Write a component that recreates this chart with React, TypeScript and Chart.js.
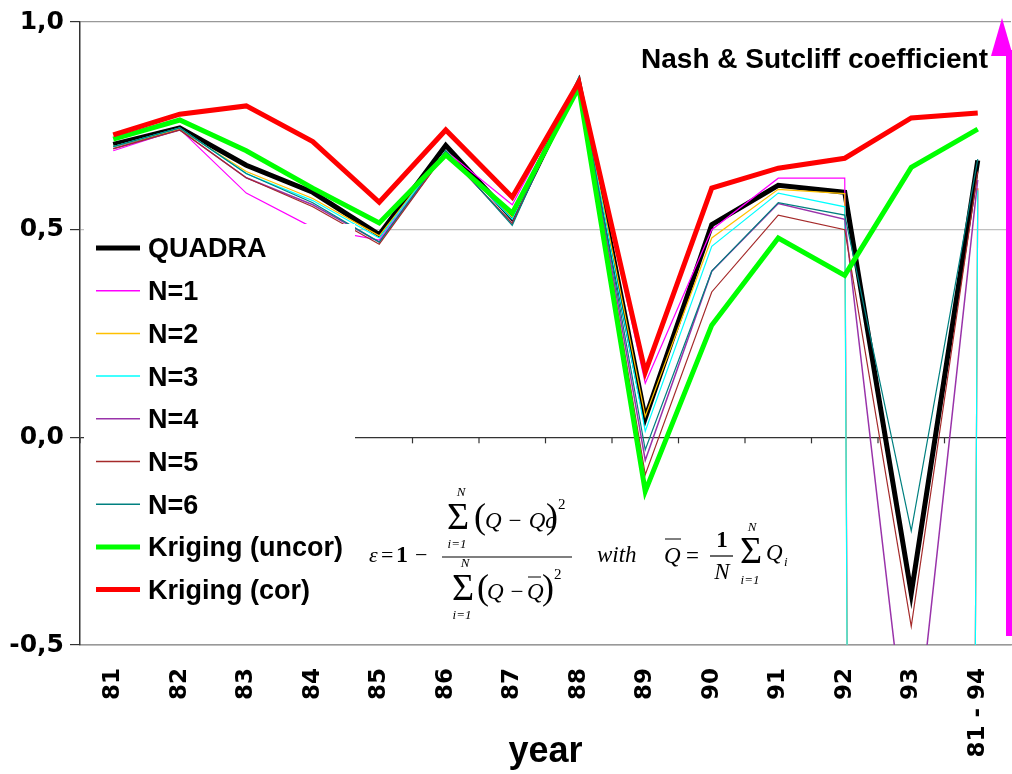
import React, { useEffect, useRef } from 'react';
import { Chart, registerables } from 'chart.js';

Chart.register(...registerables);

const categories = ['81', '82', '83', '84', '85', '86', '87', '88', '89', '90', '91', '92', '93', '81 - 94'];

const quadra = [0.705, 0.745, 0.655, 0.59, 0.488, 0.703, 0.528, 0.855, 0.046, 0.512, 0.607, 0.59, -0.376, 0.667];
const n1 = [0.69, 0.742, 0.588, 0.505, 0.475, 0.69, 0.56, 0.86, 0.13, 0.5, 0.624, 0.624, -30, 0.6];
const n2 = [0.7, 0.742, 0.64, 0.575, 0.485, 0.69, 0.53, 0.855, 0.05, 0.48, 0.597, 0.587, -30, 0.6];
const n3 = [0.7, 0.745, 0.635, 0.57, 0.48, 0.69, 0.525, 0.86, 0.015, 0.46, 0.588, 0.555, -30, 0.595];
const n4 = [0.695, 0.74, 0.625, 0.56, 0.47, 0.685, 0.515, 0.86, -0.055, 0.4, 0.563, 0.525, -0.85, 0.62];
const n5 = [0.695, 0.74, 0.625, 0.555, 0.465, 0.685, 0.515, 0.86, -0.09, 0.35, 0.535, 0.5, -0.455, 0.64];
const n6 = [0.7, 0.745, 0.635, 0.565, 0.47, 0.69, 0.51, 0.867, -0.03, 0.4, 0.565, 0.535, -0.225, 0.67];
const krigUncor = [0.718, 0.764, 0.69, 0.6, 0.516, 0.68, 0.54, 0.843, -0.13, 0.27, 0.48, 0.39, 0.65, 0.742];
const krigCor = [0.728, 0.778, 0.798, 0.712, 0.566, 0.74, 0.578, 0.855, 0.157, 0.6, 0.648, 0.672, 0.769, 0.781];

const seriesNames = ['QUADRA', 'N=1', 'N=2', 'N=3', 'N=4', 'N=5', 'N=6', 'Kriging (uncor)', 'Kriging (cor)'];
const seriesValues = [quadra, n1, n2, n3, n4, n5, n6, krigUncor, krigCor];
const seriesColors = ['#000000', '#ff00ff', '#ffc000', '#00ffff', '#9933aa', '#a52a2a', '#008080', '#00ff00', '#ff0000'];
const seriesWidths = [5, 1.2, 1.2, 1.2, 1.5, 1.2, 1.2, 5, 5];

const yTicks = [-0.5, 0, 0.5, 1.0];
const xTitle = 'year';
const chartTitle = 'Nash & Sutcliff coefficient';

const SANS = '"Liberation Sans", Arial, Helvetica, sans-serif';
const WIDE = '"DejaVu Sans", "Liberation Sans", Arial, sans-serif';
const SERIF = '"Liberation Serif", "Times New Roman", serif';

function txt(ctx: CanvasRenderingContext2D, s: string, x: number, y: number, font: string, align: CanvasTextAlign = 'left') {
  ctx.font = font;
  ctx.textAlign = align;
  ctx.textBaseline = 'middle';
  ctx.fillText(s, x, y);
}
function hline(ctx: CanvasRenderingContext2D, x1: number, x2: number, y: number, w = 1.2) {
  ctx.beginPath();
  ctx.lineWidth = w;
  ctx.moveTo(x1, y);
  ctx.lineTo(x2, y);
  ctx.stroke();
}

const it = (n: number) => `italic ${n}px ${SERIF}`;
const rm = (n: number) => `${n}px ${SERIF}`;

const overlayPlugin = {
  id: 'overlay',
  afterDatasetsDraw(chart: any) {
    const ctx: CanvasRenderingContext2D = chart.ctx;
    const xs = chart.scales.x;
    const ys = chart.scales.y;
    ctx.save();

    // tick marks under the zero line at category boundaries
    const y0 = ys.getPixelForValue(0);
    const step = xs.getPixelForValue(1) - xs.getPixelForValue(0);
    ctx.strokeStyle = '#333';
    ctx.lineWidth = 1.2;
    for (let i = 0; i <= categories.length; i++) {
      const px = xs.getPixelForValue(0) - step / 2 + i * step;
      ctx.beginPath();
      ctx.moveTo(px, y0);
      ctx.lineTo(px, y0 + 6);
      ctx.stroke();
    }

    // legend box (white, covering the lines)
    ctx.fillStyle = '#ffffff';
    ctx.fillRect(84, 224, 271, 401);
    const ds = chart.data.datasets;
    for (let i = 0; i < ds.length; i++) {
      const cy = 248 + i * 42.7;
      ctx.strokeStyle = ds[i].borderColor;
      ctx.lineWidth = Math.max(ds[i].borderWidth, 1.5);
      ctx.beginPath();
      ctx.moveTo(96, cy);
      ctx.lineTo(140, cy);
      ctx.stroke();
      ctx.fillStyle = '#000';
      txt(ctx, ds[i].label, 148, cy + 2, `bold 27px ${SANS}`);
    }

    // title text
    ctx.fillStyle = '#000';
    txt(ctx, chartTitle, 988, 60, `bold 28px ${SANS}`, 'right');

    // formula
    ctx.fillStyle = '#000';
    ctx.strokeStyle = '#000';
    txt(ctx, 'ε', 369, 556, it(22));
    txt(ctx, '=', 381, 556, rm(22));
    txt(ctx, '1', 396, 556, `bold 24px ${SERIF}`);
    txt(ctx, '−', 415, 556, rm(22));
    // numerator
    txt(ctx, 'N', 461, 493, it(13), 'center');
    txt(ctx, 'Σ', 458, 519, rm(38), 'center');
    txt(ctx, 'i=1', 457, 545, it(13), 'center');
    txt(ctx, '(', 474, 519, rm(36));
    txt(ctx, 'Q − Qc', 485, 522, it(23));
    txt(ctx, ')', 546, 519, rm(36));
    txt(ctx, '2', 558, 505, rm(15));
    hline(ctx, 442, 572, 557);
    // denominator
    txt(ctx, 'N', 465, 564, it(13), 'center');
    txt(ctx, 'Σ', 463, 590, rm(38), 'center');
    txt(ctx, 'i=1', 462, 616, it(13), 'center');
    txt(ctx, '(', 477, 590, rm(36));
    txt(ctx, 'Q −', 487, 593, it(23));
    txt(ctx, 'Q', 527, 593, it(23));
    hline(ctx, 528, 541, 577, 1);
    txt(ctx, ')', 542, 590, rm(36));
    txt(ctx, '2', 554, 575, rm(15));
    // with
    txt(ctx, 'with', 597, 556, it(23));
    txt(ctx, 'Q', 664, 557, it(23));
    hline(ctx, 665, 681, 539, 1);
    txt(ctx, '=', 686, 557, rm(23));
    txt(ctx, '1', 722, 541, `bold 23px ${SERIF}`, 'center');
    hline(ctx, 710, 733, 556);
    txt(ctx, 'N', 722, 573, it(23), 'center');
    txt(ctx, 'N', 752, 528, it(13), 'center');
    txt(ctx, 'Σ', 751, 553, rm(38), 'center');
    txt(ctx, 'i=1', 750, 581, it(13), 'center');
    txt(ctx, 'Q', 766, 554, it(23));
    txt(ctx, 'i', 784, 563, it(13));

    // magenta arrow on the right edge
    ctx.fillStyle = '#ff00ff';
    ctx.fillRect(1006, 50, 6, 586);
    ctx.beginPath();
    ctx.moveTo(991, 56);
    ctx.lineTo(1002, 18);
    ctx.lineTo(1013, 56);
    ctx.closePath();
    ctx.fill();

    ctx.restore();
  },
};

export default function App() {
  const ref = useRef<HTMLCanvasElement | null>(null);

  useEffect(() => {
    if (!ref.current) return;
    Chart.defaults.font.family = SANS;
    const datasets = seriesNames.map((name, i) => ({
      label: name,
      data: seriesValues[i],
      borderColor: seriesColors[i],
      backgroundColor: seriesColors[i],
      borderWidth: seriesWidths[i],
      pointRadius: 0,
      tension: 0,
      fill: false,
      order: seriesNames.length - i,
    }));
    const gridColor = (c: any) => {
      const v = c.tick ? c.tick.value : null;
      if (v === 0) return '#333333';
      if (v === 0.5) return '#c0c0c0';
      return '#999999';
    };
    const chart = new Chart(ref.current, {
      type: 'line',
      data: { labels: categories, datasets },
      plugins: [overlayPlugin],
      options: {
        animation: false,
        responsive: false,
        maintainAspectRatio: false,
        layout: { padding: { top: 22, right: 1, left: 0, bottom: 0 } },
        plugins: { legend: { display: false }, tooltip: { enabled: false }, title: { display: false } },
        elements: { point: { radius: 0 }, line: { tension: 0 } },
        scales: {
          x: {
            type: 'category',
            offset: true,
            grid: { display: true, drawOnChartArea: false, drawTicks: false },
            border: { display: true, color: '#999999', width: 1.5 },
            ticks: {
              autoSkip: false,
              maxRotation: 90,
              minRotation: 90,
              padding: 23,
              color: '#000',
              font: { family: WIDE, size: 23, weight: 'bold' },
            },
            title: {
              display: true,
              text: xTitle,
              color: '#000',
              font: { family: SANS, size: 36, weight: 'bold' },
              padding: { top: 0, bottom: 0 },
            },
            afterFit: (s: any) => {
              s.height = 129;
              s.paddingRight = 0;
              s.paddingLeft = 0;
            },
          },
          y: {
            min: -0.5,
            max: 1.0,
            afterBuildTicks: (s: any) => { s.ticks = yTicks.map((v) => ({ value: v })); },
            ticks: {
              callback: (v: any) => Number(v).toFixed(1).replace('.', ','),
              color: '#000',
              padding: 6,
              font: { family: WIDE, size: 25, weight: 'bold' },
            },
            grid: { color: gridColor, tickColor: '#333333', tickLength: 10, lineWidth: 1.2 },
            border: { display: true, color: '#333333', width: 1.5 },
            afterFit: (s: any) => { s.width = 80; },
          },
        },
      } as any,
    });
    return () => chart.destroy();
  }, []);

  return (
    <div style={{ position: 'absolute', left: 0, top: 0, width: 1012, height: 774, background: '#fff' }}>
      <canvas ref={ref} width={1012} height={774} style={{ display: 'block', width: 1012, height: 774 }} />
    </div>
  );
}
